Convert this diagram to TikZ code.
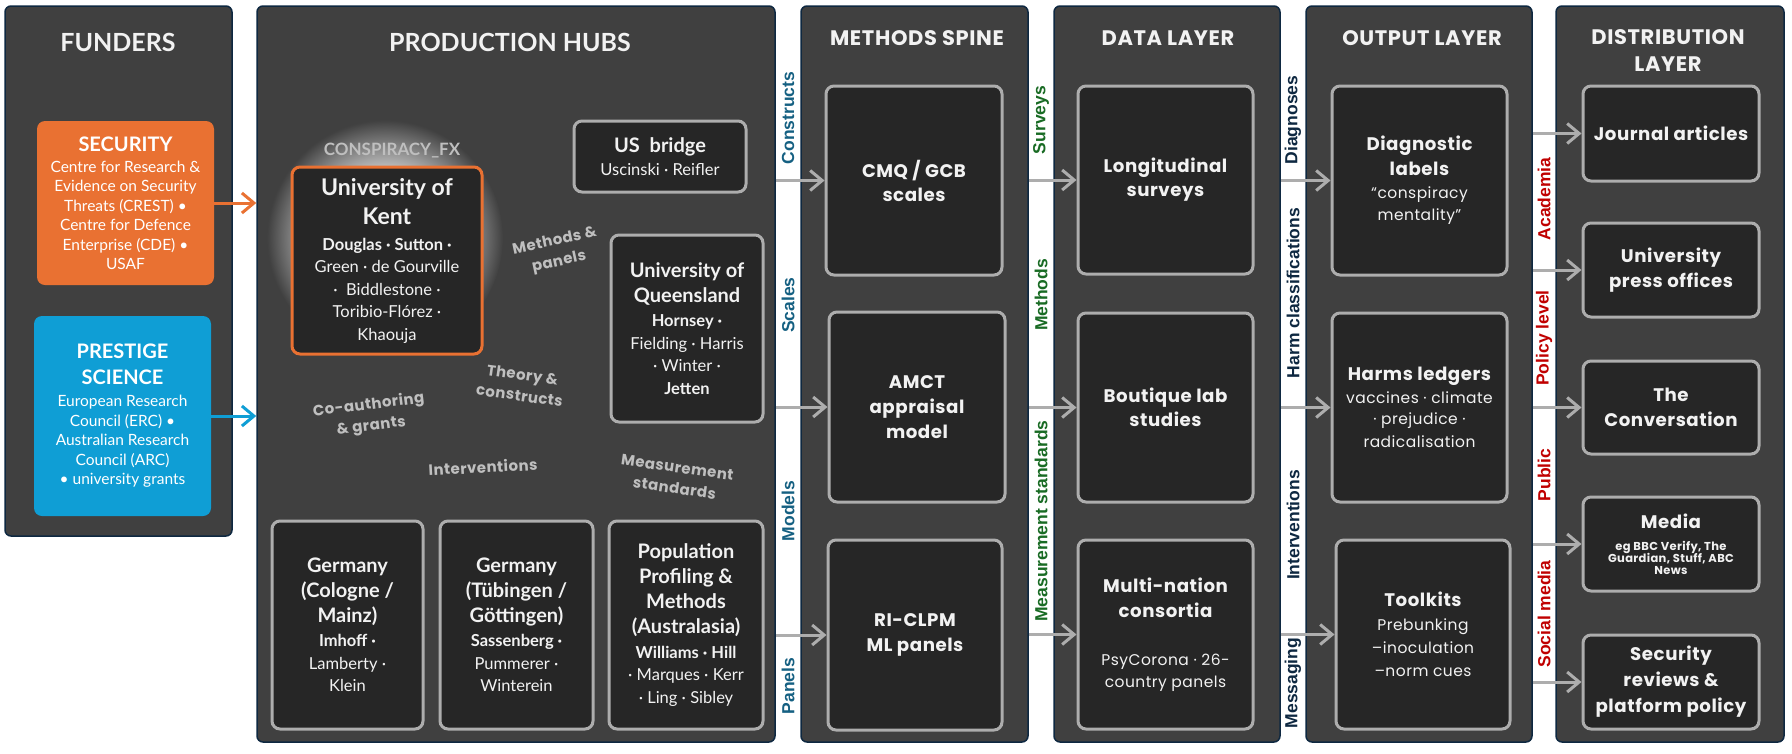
\documentclass[tikz,border=0pt]{standalone}
\usepackage{fontspec}
\setmainfont{Lato}
\newfontfamily\pop{Poppins}[LetterSpace=3]
\newfontfamily\narrowf{Liberation Sans}
\usetikzlibrary{arrows.meta}
\definecolor{panelc}{HTML}{404040}
\definecolor{navyc}{HTML}{0E2841}
\definecolor{boxc}{HTML}{262626}
\definecolor{edgec}{HTML}{ADADAD}
\definecolor{orangec}{HTML}{E97132}
\definecolor{bluec}{HTML}{0F9ED5}
\definecolor{tealc}{HTML}{156082}
\definecolor{greenc}{HTML}{196B24}
\definecolor{redc}{HTML}{C00000}
\definecolor{titlec}{HTML}{F2F2F2}
\definecolor{lblc}{HTML}{BFBFBF}
\definecolor{glowa}{HTML}{E2E2E2}
\definecolor{glowb}{HTML}{BDBDBD}
\pgfdeclareradialshading{kglow}{\pgfpoint{0bp}{0bp}}{color(0bp)=(glowa); color(15bp)=(glowb); color(25bp)=(panelc); color(50bp)=(panelc)}
\newcommand\myhd[2]{{\fontsize{#1}{#1}\selectfont\bfseries #2}}
\newcommand\mysub[1]{{\mdseries\fontsize{15.5}{20}\selectfont #1}}
\begin{document}
\begin{tikzpicture}[x=1pt,y=-1pt,
 sz/.style 2 args={minimum width=#1pt,minimum height=#2pt},
 panel/.style={draw=navyc,line width=1.5pt,fill=panelc,rounded corners=6pt,inner sep=0pt},
 ibox/.style={draw=edgec,line width=3pt,fill=boxc,rounded corners=8pt,inner sep=0pt,align=center,text=titlec},
 fbox/.style={rounded corners=8pt,inner sep=0pt,align=center,text=white,font=\fontsize{15.5}{19.5}\selectfont},
 hubbox/.style={ibox,font=\fontsize{16.5}{22.5}\selectfont},
 colbox/.style={ibox,font=\pop\fontsize{18.2}{24}\selectfont\bfseries},
 ttlA/.style={text=titlec,font=\fontsize{25}{30}\selectfont\bfseries},
 ttlB/.style={text=titlec,font=\pop\fontsize{21}{27}\selectfont\bfseries,align=center},
 glbl/.style={text=lblc,font=\pop\fontsize{15}{21}\selectfont\bfseries,align=center,inner sep=0pt},
 vlbl/.style={rotate=90,inner sep=0pt,font=\narrowf\fontsize{17.5}{20}\selectfont\bfseries},
 arr/.style={draw=edgec,line width=3pt,-{Straight Barb[length=12pt,width=20pt]}},
]
\useasboundingbox (0,0) rectangle (1792,753);
\fill[white] (0,0) rectangle (1792,753);

% panels
\node[panel,sz={227}{530}] (funders) at (118.5,271) {};
\node[panel,sz={518}{736}] (hubs) at (516,374) {};
\node[panel,sz={227}{736}] (methods) at (914.5,374) {};
\node[panel,sz={226}{736}] (data) at (1167,374) {};
\node[panel,sz={226}{736}] (output) at (1419,374) {};
\node[panel,sz={228}{736}] (dist) at (1670,374) {};

% titles
\node[ttlA] (tfund) at (118,42) {FUNDERS};
\node[ttlA] (thubs) at (510,42) {PRODUCTION HUBS};
\node[ttlB] (tmeth) at (917,38) {METHODS SPINE};
\node[ttlB] (tdata) at (1168,38) {DATA LAYER};
\node[ttlB] (tout) at (1422,38) {OUTPUT LAYER};
\node[ttlB] (tdist) at (1668,51) {DISTRIBUTION\\LAYER};

% funders
\node[fbox,fill=orangec,sz={177}{164}] (security) at (125.5,203)
 {\myhd{20}{SECURITY}\\[1.5pt]Centre for Research \&\\Evidence on Security\\Threats (CREST) •\\Centre for Defence\\Enterprise (CDE) •\\USAF};
\node[fbox,fill=bluec,sz={177}{200}] (prestige) at (122.5,416)
 {\myhd{20}{PRESTIGE}\\[6.5pt]\myhd{20}{SCIENCE}\\[2.5pt]European Research\\Council (ERC) •\\Australian Research\\Council (ARC)\\• university grants};

% glow + hubs
\shade[shading=kglow] (385,238) circle [radius=118pt];
\node[text=lblc,font=\fontsize{17}{20}\selectfont\bfseries] (cfx) at (392,151) {CONSPIRACY\_FX};
\node[hubbox,draw=orangec,sz={190}{187}] (kent) at (387,260.5)
 {\myhd{23}{University of}\\[6.5pt]\myhd{23}{Kent}\\[3.5pt]\textbf{Douglas · Sutton ·}\\Green · de Gourville\\·\ \ Biddlestone ·\\Toribio-Flórez ·\\Khaouja};
\node[hubbox,sz={172}{71}] (usb) at (660,156.5)
 {\myhd{20}{US\ \ bridge}\\[0pt]Uscinski · Reifler};
\node[hubbox,sz={152}{187}] (uq) at (687,328.5)
 {\myhd{20}{University of}\\[2.5pt]\myhd{20}{Queensland}\\[1.5pt]\textbf{Hornsey ·}\\Fielding · Harris\\· Winter ·\\\textbf{Jetten}};
\node[hubbox,sz={151}{208}] (ger1) at (347.5,625)
 {\myhd{20}{Germany}\\[2.5pt]\myhd{20}{(Cologne /}\\[2.5pt]\myhd{20}{Mainz)}\\[1.5pt]\textbf{Imhoff ·}\\Lamberty ·\\Klein};
\node[hubbox,sz={153}{208}] (ger2) at (516.5,625)
 {\myhd{20}{Germany}\\[2.5pt]\myhd{20}{(Tübingen /}\\[2.5pt]\myhd{20}{Göttingen)}\\[1.5pt]\textbf{Sassenberg ·}\\Pummerer ·\\Winterein};
\node[hubbox,sz={154}{208}] (popu) at (686,625)
 {\myhd{20}{Population}\\[2.5pt]\myhd{20}{Profiling \&}\\[2.5pt]\myhd{20}{Methods}\\[2.5pt]\myhd{20}{(Australasia)}\\[2.5pt]\textbf{Williams · Hill}\\· Marques · Kerr\\· Ling · Sibley};

% hub labels
\node[glbl,rotate=12] (lmp) at (557,252) {Methods \&\\panels};
\node[glbl,rotate=-8] (ltc) at (521,385) {Theory \&\\constructs};
\node[glbl,rotate=7] (lcg) at (370,416) {Co-authoring\\\& grants};
\node[glbl,rotate=3] (lint) at (483,467) {Interventions};
\node[glbl,rotate=-8] (lms) at (676,478) {Measurement\\standards};

% methods
\node[colbox,sz={176}{189}] (cmq) at (914,180.5) {CMQ / GCB\\scales};
\node[colbox,sz={176}{190}] (amct) at (917,407) {AMCT\\[1pt]appraisal\\[1pt]model};
\node[colbox,sz={174}{190}] (ri) at (915,635) {RI-CLPM\\[1pt]ML panels};
% data
\node[colbox,sz={175}{188}] (long) at (1165.5,180) {Longitudinal\\surveys};
\node[colbox,sz={175}{189}] (bout) at (1165.5,407.5) {Boutique lab\\studies};
\node[colbox,sz={175}{189}] (multi) at (1165.5,634.5)
 {Multi-nation\\[1pt]consortia\\[24pt]\mysub{PsyCorona · 26-}\\[-2pt]\mysub{country panels}};
% output
\node[colbox,sz={175}{189}] (diag) at (1419.5,180.5)
 {Diagnostic\\[1pt]labels\\[-1pt]\mysub{“conspiracy}\\[-2pt]\mysub{mentality”}};
\node[colbox,sz={175}{189}] (harms) at (1419.5,407.5)
 {Harms ledgers\\[-1pt]\mysub{vaccines · climate}\\[-3pt]\mysub{· prejudice ·}\\[-1pt]\mysub{radicalisation}};
\node[colbox,sz={174}{189}] (tool) at (1423,634.5)
 {Toolkits\\[0pt]\mysub{Prebunking}\\[-1pt]\mysub{–inoculation}\\[-1pt]\mysub{–norm cues}};
% distribution
\node[colbox,sz={176}{95}] (journal) at (1671,133.5) {Journal articles};
\node[colbox,sz={176}{94}] (press) at (1671,270) {University\\[1pt]press offices};
\node[colbox,sz={176}{93}] (conv) at (1671,407.5) {The\\[1pt]Conversation};
\node[colbox,sz={176}{94}] (media) at (1671,544)
 {Media\\[-2pt]{\fontsize{11.5}{12}\selectfont eg BBC Verify, The}\\[-12pt]{\fontsize{11.5}{12}\selectfont Guardian, Stuff, ABC}\\[-12pt]{\fontsize{11.5}{12}\selectfont News}};
\node[colbox,sz={176}{94}] (secrev) at (1671,682) {Security\\[2pt]reviews \&\\[2pt]platform policy};

% funder arrows
\draw[arr,draw=orangec] (security.east) -- (security.east -| hubs.west);
\draw[arr,draw=bluec] (prestige.east) -- (prestige.east -| hubs.west);
% hubs -> methods
\draw[arr] (cmq.west -| hubs.east) -- (cmq.west);
\draw[arr] (amct.west -| hubs.east) -- (amct.west);
\draw[arr] (ri.west -| hubs.east) -- (ri.west);
% methods -> data
\draw[arr] (long.west -| methods.east) -- (long.west);
\draw[arr] (bout.west -| methods.east) -- (bout.west);
\draw[arr] (multi.west -| methods.east) -- (multi.west);
% data -> output
\draw[arr] (diag.west -| data.east) -- (diag.west);
\draw[arr] (harms.west -| data.east) -- (harms.west);
\draw[arr] (tool.west -| data.east) -- (tool.west);
% output -> dist
\draw[arr] (journal.west -| output.east) -- (journal.west);
\draw[arr] (press.west -| output.east) -- (press.west);
\draw[arr] (conv.west -| output.east) -- (conv.west);
\draw[arr] (media.west -| output.east) -- (media.west);
\draw[arr] (secrev.west -| output.east) -- (secrev.west);

% vertical labels
\node[vlbl,text=tealc] (vc) at (788,118) {Constructs};
\node[vlbl,text=tealc] (vs) at (788,305) {Scales};
\node[vlbl,text=tealc] (vm) at (788,511) {Models};
\node[vlbl,text=tealc] (vp) at (788,686) {Panels};
\node[vlbl,text=greenc] (gs) at (1041,120) {Surveys};
\node[vlbl,text=greenc] (gm) at (1041,295) {Methods};
\node[vlbl,text=greenc] (gms) at (1041,521) {Measurement standards};
\node[vlbl,text=navyc] (nd) at (1293,120) {Diagnoses};
\node[vlbl,text=navyc] (nh) at (1293,293) {Harm classifications};
\node[vlbl,text=navyc] (ni) at (1293,525) {Interventions};
\node[vlbl,text=navyc] (nm) at (1293,683) {Messaging};
\node[vlbl,text=redc] (ra) at (1544,199) {Academia};
\node[vlbl,text=redc] (rp) at (1544,338) {Policy level};
\node[vlbl,text=redc] (rpu) at (1544,475) {Public};
\node[vlbl,text=redc] (rs) at (1544,614) {Social media};
\end{tikzpicture}
\end{document}
